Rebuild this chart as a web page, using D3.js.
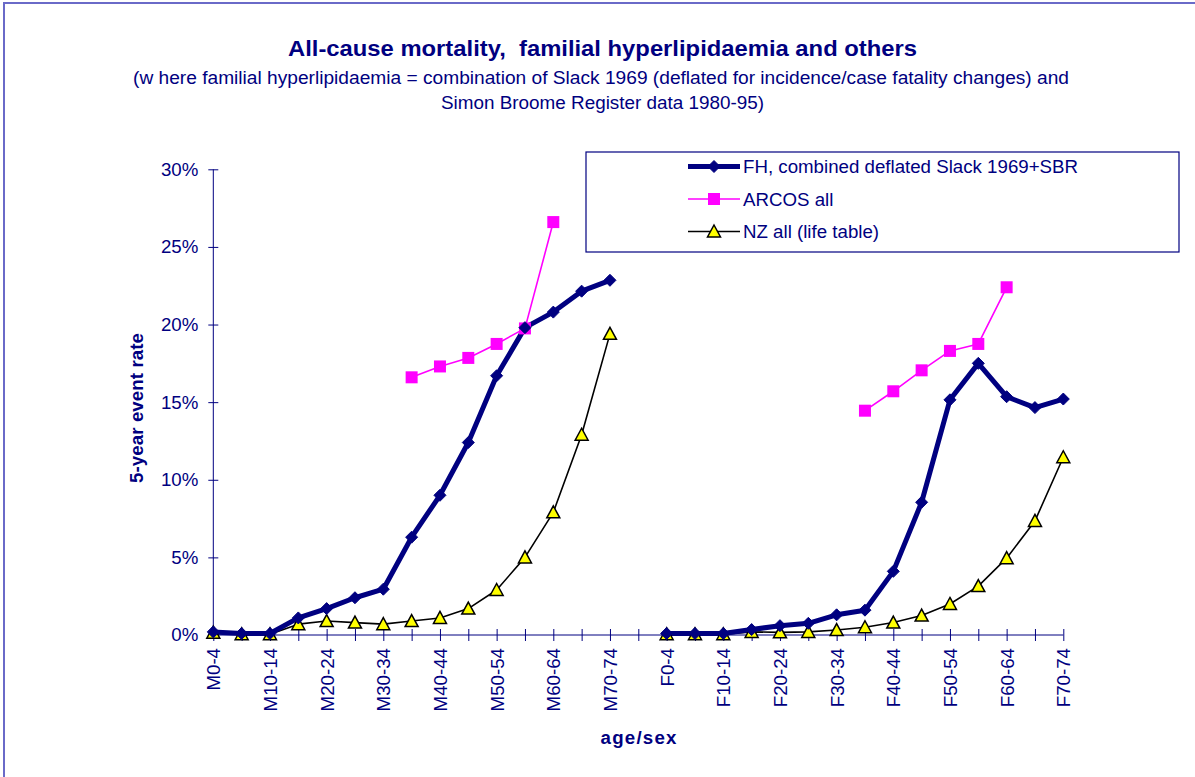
<!DOCTYPE html>
<html>
<head>
<meta charset="utf-8">
<script src="https://cdn.jsdelivr.net/npm/d3@7"></script>
<style>
  html, body { margin: 0; padding: 0; background: #fff; }
  svg { display: block; font-family: "Liberation Sans", Arial, sans-serif; }
</style>
</head>
<body>
<svg id="chart" width="1195" height="777"></svg>
<script>
// ---------- data ----------
const ageGroups = ["0-4","5-9","10-14","15-19","20-24","25-29","30-34","35-39","40-44","45-49","50-54","55-59","60-64","65-69","70-74"];
const categories = [...ageGroups.map(a => "M" + a), "", ...ageGroups.map(a => "F" + a)];
const tickLabels = ["M0-4","M10-14","M20-24","M30-34","M40-44","M50-54","M60-64","M70-74",
                    "F0-4","F10-14","F20-24","F30-34","F40-44","F50-54","F60-64","F70-74"];
const yTicks = [0, 0.05, 0.10, 0.15, 0.20, 0.25, 0.30];

// values in percent
const maleFH     = [0.2, 0.1, 0.1, 1.1, 1.7, 2.4, 2.95, 6.3, 9.0, 12.4, 16.7, 19.8, 20.8, 22.15, 22.85];
const femaleFH   = [0.1, 0.1, 0.1, 0.35, 0.6, 0.75, 1.3, 1.6, 4.1, 8.55, 15.15, 17.5, 15.35, 14.65, 15.2];
const maleARCOS  = [null, null, null, null, null, null, null, 16.6, 17.3, 17.85, 18.75, 19.75, 26.6, null, null];
const femaleARCOS= [null, null, null, null, null, null, null, 14.45, 15.7, 17.05, 18.3, 18.75, 22.4, null, null];
const maleNZ     = [0.15, 0.05, 0.05, 0.7, 0.9, 0.8, 0.7, 0.9, 1.1, 1.7, 2.9, 5.0, 7.9, 12.9, 19.4];
const femaleNZ   = [0.05, 0.05, 0.05, 0.2, 0.17, 0.2, 0.32, 0.5, 0.8, 1.25, 2.0, 3.15, 4.95, 7.35, 11.45];

const seriesNames = ["FH, combined deflated Slack 1969+SBR", "ARCOS all", "NZ all (life table)"];

// ---------- build ----------
const navy = "#000080";
const fs = 18.7;
const svg = d3.select("#chart");

// outer frame (left + top visible)
svg.append("rect").attr("x", 4).attr("y", 3).attr("width", 1300).attr("height", 900)
  .attr("fill", "none").attr("stroke", "#6a6ac8").attr("stroke-width", 2);

const x = d3.scalePoint().domain(categories.map((c, i) => i)).range([213.3, 1063.3]);
const y = d3.scaleLinear().domain([0, 0.30]).range([635, 169.3]);

function combine(m, f) {
  return [...m, null, ...f].map(v => v == null ? null : v / 100);
}
const series = [
  { name: seriesNames[0], values: combine(maleFH, femaleFH), color: navy, width: 5, marker: "diamond" },
  { name: seriesNames[1], values: combine(maleARCOS, femaleARCOS), color: "#FF00FF", width: 1.6, marker: "square" },
  { name: seriesNames[2], values: combine(maleNZ, femaleNZ), color: "#000000", width: 1.6, marker: "triangle" }
];

// titles
const title = svg.append("g").attr("fill", navy).attr("text-anchor", "middle");
title.append("text").attr("x", 602.5).attr("y", 56).attr("font-size", 21.5).attr("font-weight", "bold")
  .attr("xml:space", "preserve").style("white-space", "pre")
  .attr("textLength", 629).attr("lengthAdjust", "spacingAndGlyphs")
  .text("All-cause mortality,  familial hyperlipidaemia and others");
title.append("text").attr("x", 601).attr("y", 84).attr("font-size", fs)
  .attr("textLength", 936).attr("lengthAdjust", "spacingAndGlyphs")
  .text("(w here familial hyperlipidaemia = combination of Slack 1969 (deflated for incidence/case fatality changes) and");
title.append("text").attr("x", 602.5).attr("y", 108.5).attr("font-size", fs)
  .attr("textLength", 323).attr("lengthAdjust", "spacingAndGlyphs")
  .text("Simon Broome Register data 1980-95)");

// y axis
const yAxisG = svg.append("g").attr("transform", "translate(213.3,0)")
  .call(d3.axisLeft(y).tickValues(yTicks).tickFormat(d3.format(".0%")).tickSize(5).tickPadding(10));
yAxisG.select(".domain").attr("stroke", navy).attr("d", `M0,${y(0)}V${y(0.30)}`);
yAxisG.selectAll(".tick line").attr("stroke", navy).attr("x1", 5).attr("x2", -5);
yAxisG.selectAll(".tick text").attr("fill", navy).attr("font-size", fs)
  .attr("font-family", '"Liberation Sans", Arial, sans-serif');

// x axis
const xAxisG = svg.append("g").attr("transform", `translate(0,${y(0)})`)
  .call(d3.axisBottom(x).tickSize(6).tickFormat(i => categories[i]));
xAxisG.select(".domain").attr("stroke", navy).attr("d", `M${x(0)},0H${x(categories.length - 1)}`);
xAxisG.selectAll(".tick line").attr("stroke", navy).attr("y1", -6).attr("y2", 6);
xAxisG.selectAll(".tick text")
  .attr("fill", navy).attr("font-size", fs).attr("font-family", '"Liberation Sans", Arial, sans-serif')
  .attr("text-anchor", "end").attr("y", 0)
  .attr("transform", "translate(0,13) rotate(-90)").attr("x", 0).attr("dy", "0.35em")
  .text(i => tickLabels.includes(categories[i]) ? categories[i] : "");

// axis titles
svg.append("text").attr("transform", "translate(136,408) rotate(-90)").attr("text-anchor", "middle")
  .attr("fill", navy).attr("font-size", fs).attr("font-weight", "bold").attr("dy", "0.35em")
  .attr("textLength", 150).attr("lengthAdjust", "spacing").text("5-year event rate");
svg.append("text").attr("x", 638.5).attr("y", 744).attr("text-anchor", "middle")
  .attr("fill", navy).attr("font-size", fs).attr("font-weight", "bold")
  .attr("textLength", 76).attr("lengthAdjust", "spacing").text("age/sex");

// markers
function drawMarker(g, type, cx, cy) {
  if (type === "diamond") {
    g.append("path").attr("d", `M${cx},${cy - 6}L${cx + 6},${cy}L${cx},${cy + 6}L${cx - 6},${cy}Z`)
      .attr("fill", navy).attr("stroke", navy).attr("stroke-width", 1);
  } else if (type === "square") {
    g.append("rect").attr("x", cx - 6).attr("y", cy - 6).attr("width", 12).attr("height", 12)
      .attr("fill", "#FF00FF");
  } else {
    g.append("path").attr("d", `M${cx},${cy - 6.5}L${cx + 6.5},${cy + 5.5}L${cx - 6.5},${cy + 5.5}Z`)
      .attr("fill", "#FFFF00").attr("stroke", "#000").attr("stroke-width", 1.5).attr("stroke-linejoin", "miter");
  }
}

const plot = svg.append("g");
const order = [2, 1, 0];
order.forEach(si => {
  const s = series[si];
  const line = d3.line().defined(d => d != null).x((d, i) => x(i)).y(d => y(d));
  plot.append("path").datum(s.values).attr("d", line).attr("fill", "none")
    .attr("stroke", s.color).attr("stroke-width", s.width).attr("stroke-linejoin", "round");
});
order.forEach(si => {
  const s = series[si];
  const mg = plot.append("g");
  s.values.forEach((v, i) => { if (v != null) drawMarker(mg, s.marker, x(i), y(v)); });
});

// legend
const lg = svg.append("g");
lg.append("rect").attr("x", 586).attr("y", 152).attr("width", 593).attr("height", 100)
  .attr("fill", "#fff").attr("stroke", navy).attr("stroke-width", 1.2);
const rowsY = [166.5, 199, 231.5];
series.forEach((s, k) => {
  const ry = rowsY[k];
  lg.append("line").attr("x1", 688).attr("x2", 740).attr("y1", ry).attr("y2", ry)
    .attr("stroke", s.color).attr("stroke-width", s.width);
  drawMarker(lg, s.marker, 714, ry);
  lg.append("text").attr("x", 743).attr("y", ry).attr("dy", "0.35em").attr("fill", navy)
    .attr("font-size", fs).text(s.name);
});
</script>
</body>
</html>
